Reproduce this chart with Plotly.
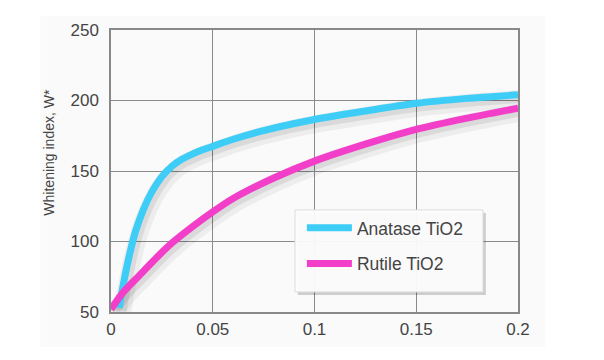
import plotly.graph_objects as go

# Data
anatase_x = [0.004, 0.0065, 0.009, 0.012, 0.016, 0.02, 0.025, 0.03, 0.035, 0.04,
             0.045, 0.05, 0.06, 0.076, 0.1, 0.125, 0.15, 0.175, 0.2]
anatase_y = [53, 73, 90, 107, 123, 135, 146, 153.5, 158.5, 162,
             165, 167.5, 172.5, 179, 186.5, 192.5, 198, 201.5, 204]

rutile_x = [0, 0.006, 0.014, 0.022, 0.03, 0.04, 0.05, 0.06, 0.08, 0.1,
            0.125, 0.15, 0.175, 0.2]
rutile_y = [52, 64, 76, 88, 99, 110.5, 121, 130.5, 145, 157,
            169, 179.5, 187.5, 194.5]

x_ticks = [0, 0.05, 0.1, 0.15, 0.2]
x_tick_labels = ["0", "0.05", "0.1", "0.15", "0.2"]
y_ticks = [50, 100, 150, 200, 250]
y_title = "Whitening index, W*"

series = [
    ("Anatase TiO2", anatase_x, anatase_y, "#3dcdf7"),
    ("Rutile TiO2", rutile_x, rutile_y, "#f23ec8"),
]

fig = go.Figure()

# soft drop shadows under the curves
for name, xs, ys, color in series:
    fig.add_trace(go.Scatter(
        x=[v + 0.0015 for v in xs], y=[v - 3 for v in ys],
        mode="lines", line=dict(color="rgba(0,0,0,0.05)", width=18, shape="spline", smoothing=0.6),
        showlegend=False, hoverinfo="skip"))
    fig.add_trace(go.Scatter(
        x=[v + 0.001 for v in xs], y=[v - 2 for v in ys],
        mode="lines", line=dict(color="rgba(0,0,0,0.08)", width=11, shape="spline", smoothing=0.6),
        showlegend=False, hoverinfo="skip"))

for i, (name, xs, ys, color) in enumerate(series):
    fig.add_trace(go.Scatter(
        x=xs, y=ys, mode="lines", name=name, legendgroup=f"g{i}",
        line=dict(color=color, width=7, shape="spline", smoothing=0.6)))

font_family = "Liberation Sans, Arial, sans-serif"

# faint panel behind the whole chart
fig.add_shape(type="rect", xref="paper", yref="paper",
              x0=-0.174, x1=1.066, y0=-0.124, y1=1.05,
              fillcolor="#fafafa", line=dict(width=0), layer="below")

# legend box (with drop shadow) drawn as shapes behind the legend entries
fig.add_shape(type="rect", xref="paper", yref="paper",
              x0=0.459, x1=0.921, y0=0.060, y1=0.351,
              fillcolor="rgba(0,0,0,0.18)", line=dict(width=0), layer="above")
fig.add_shape(type="rect", xref="paper", yref="paper",
              x0=0.452, x1=0.914, y0=0.071, y1=0.362,
              fillcolor="rgba(252,252,252,0.96)", line=dict(color="#dcdcdc", width=1),
              layer="above")

fig.add_annotation(
    text=y_title, textangle=-90, xref="paper", yref="paper",
    x=-0.151, y=0.567, xanchor="center", yanchor="middle", showarrow=False,
    font=dict(family=font_family, size=14, color="#444"))

fig.update_layout(
    width=596, height=352,
    margin=dict(l=103, r=86, t=22, b=48),
    paper_bgcolor="white",
    plot_bgcolor="#efefef",
    font=dict(family=font_family, size=17, color="#444"),
    showlegend=True,
    legend=dict(
        x=0.469, y=0.362, xanchor="left", yanchor="top",
        bgcolor="rgba(0,0,0,0)", borderwidth=0,
        font=dict(family=font_family, size=17.5, color="#444"),
        itemwidth=45, tracegroupgap=10,
    ),
    xaxis=dict(
        range=[0, 0.2], tickvals=x_ticks, ticktext=x_tick_labels,
        showgrid=True, gridcolor="#8a8a8a", gridwidth=1,
        showline=True, linecolor="#888", linewidth=1.5, mirror=True,
        zeroline=False, ticks="", ticklabelstandoff=1,
        tickfont=dict(size=17, color="#444"),
    ),
    yaxis=dict(
        range=[50, 250], tickvals=y_ticks,
        showgrid=True, gridcolor="#8a8a8a", gridwidth=1,
        showline=True, linecolor="#888", linewidth=1.5, mirror=True,
        zeroline=False, ticks="", ticklabelstandoff=7,
        tickfont=dict(size=17, color="#444"),
    ),
)

fig.write_html("out.html")
